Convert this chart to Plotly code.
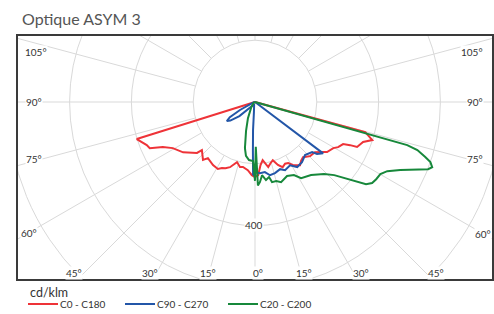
import numpy as np
import plotly.graph_objects as go

title_text = "Optique ASYM 3"
unit_label = "cd/klm"
series_names = ["C0 - C180", "C90 - C270", "C20 - C200"]
series_colors = ["#ee3338", "#2356a8", "#17883b"]

# C0 - C180 (red): right half C0, left half C180 ; gamma in degrees from nadir, values cd/klm
c0_gamma = [0, 2.5, 5, 7.5, 10, 11.5, 14, 17, 20, 23, 26, 28.5, 31, 35.5, 38, 41, 45.5, 50,
            53.3, 55.2, 59.5, 61.5, 64.5, 65.6, 66.2, 69.7, 72, 74.7, 90]
c0_cd = [243, 237, 205, 190, 205, 215, 205, 197, 217, 229, 222, 225, 238, 251, 242, 237, 250, 253,
         271, 284, 294, 306, 316, 338, 361, 373, 399, 370, 0]
c180_gamma = [0, 2.5, 6, 10.5, 13, 16.7, 21, 24, 26.6, 29, 33.7, 37, 40, 41.9, 47.8, 48.7, 55,
              60.7, 64, 66.3, 68.3, 72.6, 90]
c180_cd = [243, 237, 222, 214, 216, 203, 226, 235, 239, 248, 245, 240, 237, 252, 232, 250, 284,
           305, 332, 372, 377, 401, 0]

# C90 - C270 (blue)
c90_gamma = [0, 4, 8, 11.6, 15.7, 20.5, 23.8, 29, 33, 38, 43.3, 48.7, 50, 53, 90]
c90_cd = [227, 231, 229, 242, 239, 232, 241, 234, 251, 247, 236, 246, 262, 276, 0]
c270_gamma = [0, 1.5, 2.5, 4, 6, 20, 42, 48, 53, 56, 59, 62, 75, 90]
c270_cd = [230, 237, 156, 91, 33, 8, 12, 68, 100, 110, 95, 55, 5, 0]

# C20 - C200 (green)
c20_gamma = [0, 1, 2, 3.5, 5.5, 8, 10.6, 12, 15, 18, 23.4, 28, 31.2, 37.5, 43.8, 47.3, 49.5,
             51.9, 53.5, 55.3, 57.5, 60.1, 62.4, 64.9, 67.5, 68.8, 69.8, 71.1, 72.1, 73.5, 74.2, 90]
c20_cd = [255, 145, 270, 260, 238, 255, 247, 265, 265, 273, 261, 268, 288, 298, 323, 349, 379,
          420, 447, 461, 465, 468, 483, 519, 568, 601, 611, 600, 579, 548, 512, 0]
c200_gamma = [0, 1.9, 5.9, 9.5, 12.3, 17.2, 23.6, 33.7, 60, 90]
c200_cd = [255, 191, 189, 177, 153, 98, 57, 23, 5, 0]

ring_values = [200, 400, 600, 800]
ring_label = "400"
spoke_step = 15
angle_labels_left = ["105°", "90°", "75°", "60°"]
angle_labels_bottom = ["45°", "30°", "15°", "0°", "15°", "30°", "45°"]
angle_labels_right = ["60°", "75°", "90°", "105°"]

# ---------------- layout geometry (pixels) ----------------
W, H = 494, 314
ML, MR, MT, MB = 18, 2, 36, 35
CX, CY = 255, 102          # pole position in pixels
PX_PER_UNIT = 0.309

def p2d(px, py):
    return (px - CX) / PX_PER_UNIT, (CY - py) / PX_PER_UNIT

xr = [(ML - CX) / PX_PER_UNIT, (W - MR - CX) / PX_PER_UNIT]
yr = [(CY - (H - MB)) / PX_PER_UNIT, (CY - MT) / PX_PER_UNIT]


def half_planes(gl, vl, gr, vr):
    gl = np.radians(np.array(gl, float))[::-1]
    vl = np.array(vl, float)[::-1]
    gr = np.radians(np.array(gr, float))
    vr = np.array(vr, float)
    x = np.concatenate([-vl * np.sin(gl), vr * np.sin(gr)])
    y = np.concatenate([-vl * np.cos(gl), -vr * np.cos(gr)])
    return x, y


curves = [
    (c180_gamma, c180_cd, c0_gamma, c0_cd),
    (c270_gamma, c270_cd, c90_gamma, c90_cd),
    (c200_gamma, c200_cd, c20_gamma, c20_cd),
]

fig = go.Figure()
for i, (gl, vl, gr, vr) in enumerate(curves):
    x, y = half_planes(gl, vl, gr, vr)
    fig.add_trace(go.Scatter(x=x, y=y, mode="lines", name=series_names[i],
                             line=dict(color=series_colors[i], width=2),
                             hoverinfo="skip", showlegend=False))

grid_col = "#d9d9d9"
shapes = []
for r in ring_values:
    shapes.append(dict(type="circle", xref="x", yref="y", x0=-r, x1=r, y0=-r, y1=r,
                       line=dict(color=grid_col, width=1), layer="below"))
r0, r1 = ring_values[0], 1200
for a in range(0, 360, spoke_step):
    t = np.radians(a)
    shapes.append(dict(type="line", xref="x", yref="y",
                       x0=r0 * np.sin(t), y0=-r0 * np.cos(t),
                       x1=r1 * np.sin(t), y1=-r1 * np.cos(t),
                       line=dict(color=grid_col, width=1), layer="below"))

annotations = []
lab_font = dict(family="Lato", size=10, color="#333333")
left_pos = [(36, 52), (34, 102), (34, 159), (29, 233)]
bottom_pos = [(74, 273), (150, 273), (208, 273), (258, 273), (304, 273), (361, 273), (436, 273)]
right_pos = [(483, 234), (475, 159), (475, 102), (472, 52)]
for labels, poss in ((angle_labels_left, left_pos), (angle_labels_bottom, bottom_pos),
                     (angle_labels_right, right_pos)):
    for txt, (px, py) in zip(labels, poss):
        X, Y = p2d(px, py)
        annotations.append(dict(x=X, y=Y, xref="x", yref="y", text=txt, showarrow=False,
                                font=lab_font, bgcolor="white", borderpad=0,
                                xanchor="center", yanchor="middle"))
X, Y = p2d(254, 225)
annotations.append(dict(x=X, y=Y, xref="x", yref="y", text=ring_label, showarrow=False,
                        font=lab_font, bgcolor="white", borderpad=0))

pw, ph = W - ML - MR, H - MT - MB
def paper(px, py):
    return (px - ML) / pw, ((H - MB) - py) / ph

ux, uy = paper(48.5, 292)
annotations.append(dict(x=ux, y=uy, xref="paper", yref="paper", text=unit_label,
                        showarrow=False, xanchor="center", yanchor="middle",
                        font=dict(family="Lato", size=12.5, color="#333333")))

# legend rows drawn as line samples + texts
leg_font = dict(family="Lato", size=10, color="#333333")
legend_starts = [28, 125, 228]
legend_text_centers = [82.5, 182, 285.5]
for name, col, sx, tcx in zip(series_names, series_colors, legend_starts, legend_text_centers):
    a0, b0 = paper(sx, 304)
    a1, _ = paper(sx + 30, 304)
    shapes.append(dict(type="line", xref="paper", yref="paper", x0=a0, x1=a1, y0=b0, y1=b0,
                       line=dict(color=col, width=2)))
    ax, ay = paper(tcx, 304)
    annotations.append(dict(x=ax, y=ay, xref="paper", yref="paper", text=name, showarrow=False,
                            xanchor="center", yanchor="middle", font=leg_font))

axis_common = dict(showgrid=False, zeroline=False, showticklabels=False, ticks="",
                   showline=True, linecolor="#3a3a3a", linewidth=2, mirror=True,
                   fixedrange=True)
fig.update_layout(
    width=W, height=H,
    margin=dict(l=ML, r=MR, t=MT, b=MB, pad=0, autoexpand=False),
    paper_bgcolor="white", plot_bgcolor="white",
    title=dict(text=title_text, xref="container", yref="container",
               x=22 / W, y=1 - 19 / H, xanchor="left", yanchor="middle",
               font=dict(family="Lato", size=16, color="#555555")),
    xaxis=dict(range=xr, **axis_common),
    yaxis=dict(range=yr, **axis_common),
    shapes=shapes, annotations=annotations,
    showlegend=False,
)
fig.write_html("out.html", config={"displayModeBar": False},
               post_script="document.body.style.margin='0';document.body.style.padding='0';")
